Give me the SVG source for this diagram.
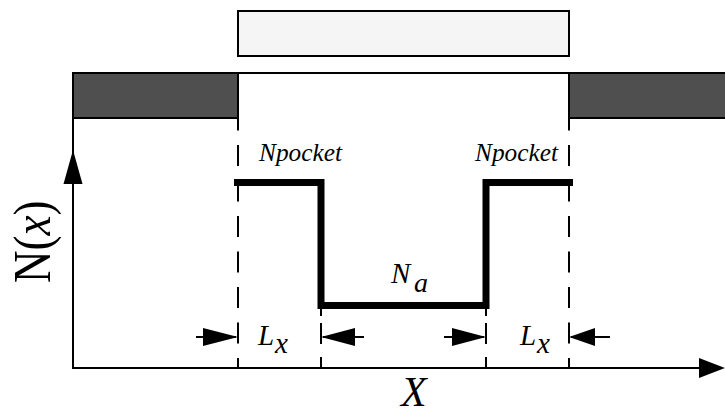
<svg xmlns="http://www.w3.org/2000/svg" width="725" height="416" viewBox="0 0 725 416">
<style>
.thin{stroke:#000;stroke-width:2;fill:none}
.dash{stroke:#000;stroke-width:2;fill:none;stroke-dasharray:21 14.5;stroke-dashoffset:8.5}
.dshort{stroke:#000;stroke-width:2;fill:none;stroke-dasharray:7 7 21 13 11}
.ah{fill:#000;stroke:none}
.bold{stroke:#000;stroke-width:7;fill:none;stroke-linejoin:miter;stroke-linecap:butt}
.lbl{font-family:'Liberation Serif','DejaVu Serif',serif;fill:#000}
.it{font-style:italic}
</style>
<rect width="725" height="416" fill="#fff"/>
<g id="gate"><rect x="238" y="11" width="331" height="45" fill="#f5f5f5" stroke="#000" stroke-width="2"/></g>
<g id="spacer-left"><rect x="73" y="73" width="165" height="45" fill="#4f4f4f" stroke="#000" stroke-width="2"/></g>
<g id="spacer-right"><rect x="569" y="73" width="160" height="45" fill="#4f4f4f" stroke="#000" stroke-width="2"/></g>
<g id="connectors">
<line class="thin" x1="238" y1="73" x2="569" y2="73"/>
<line class="thin" x1="73" y1="118" x2="73" y2="369"/>
<polygon class="ah" points="73,150 63.5,184 82.5,184"/>
<line class="thin" x1="72" y1="368" x2="702" y2="368"/>
<polygon class="ah" points="725,368 699,358 699,378"/>
<line class="dash" x1="238" y1="118" x2="238" y2="368"/>
<line class="dash" x1="569" y1="118" x2="569" y2="368"/>
<line class="dshort" x1="321" y1="309" x2="321" y2="368"/>
<line class="dshort" x1="486" y1="309" x2="486" y2="368"/>
<line class="thin" x1="196" y1="337" x2="236" y2="337"/>
<polygon class="ah" points="238,337 203,328 203,346"/>
<line class="thin" x1="323" y1="337" x2="364" y2="337"/>
<polygon class="ah" points="321,337 355,328 355,346"/>
<line class="thin" x1="444" y1="337" x2="484" y2="337"/>
<polygon class="ah" points="486,337 452,328 452,346"/>
<line class="thin" x1="571" y1="337" x2="610" y2="337"/>
<polygon class="ah" points="569,337 595,328 595,346"/>
</g>
<g id="profile"><polyline class="bold" points="234,182.5 321,182.5 321,305.5 486,305.5 486,182.5 573,182.5"/></g>
<g id="label-npocket-left"><text class="lbl it" x="259" y="161" font-size="26" textLength="83" lengthAdjust="spacingAndGlyphs">Npocket</text></g>
<g id="label-npocket-right"><text class="lbl it" x="475" y="161" font-size="26" textLength="83" lengthAdjust="spacingAndGlyphs">Npocket</text></g>
<g id="label-na"><text class="lbl it" x="391" y="283" font-size="29">N</text><text class="lbl it" x="414" y="292" font-size="28">a</text></g>
<g id="label-lx-left"><text class="lbl it" x="258" y="345" font-size="29">L</text><text class="lbl it" x="275" y="353" font-size="29">x</text></g>
<g id="label-lx-right"><text class="lbl it" x="520" y="345" font-size="29">L</text><text class="lbl it" x="537" y="353" font-size="29">x</text></g>
<g id="label-nx"><text class="lbl" font-size="45" transform="translate(50,283) rotate(-90) scale(1,1.17)">N(<tspan class="it">x</tspan>)</text></g>
<g id="label-x"><text class="lbl it" x="401" y="406" font-size="42">X</text></g>
</svg>
